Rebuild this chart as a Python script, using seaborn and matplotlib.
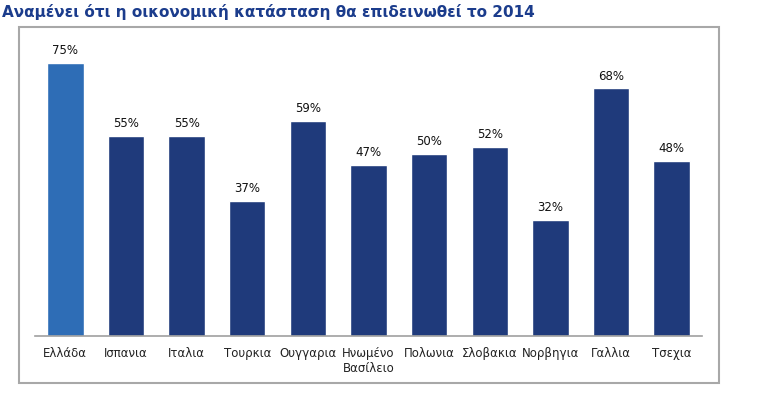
import numpy as np
import pandas as pd
import seaborn as sns
import matplotlib.pyplot as plt
from matplotlib.patches import Rectangle

countries = ['Ελλάδα', 'Ισπανια', 'Ιταλια', 'Τουρκια', 'Ουγγαρια', 'Ηνωμένο\nΒασίλειο',
             'Πολωνια', 'Σλοβακια', 'Νορβηγια', 'Γαλλια', 'Τσεχια']
values = [75, 55, 55, 37, 59, 47, 50, 52, 32, 68, 48]
colors = ['#2E6DB6'] + ['#1F3A7B'] * 10

df = pd.DataFrame({'country': countries, 'value': values})

sns.set_style('white')
plt.rcParams['font.family'] = ['DejaVu Sans']

fig = plt.figure(figsize=(7.58, 3.95), dpi=100)
ax = fig.add_axes([35 / 758, 1 - 336 / 395, 667 / 758, 296 / 395])

sns.barplot(data=df, x='country', y='value', hue='country', palette=colors,
            legend=False, width=0.6, saturation=1, ax=ax)

for i, v in enumerate(values):
    ax.text(i, v + 1.6, f'{v}%', ha='center', va='bottom', fontsize=8.5, color='#111111')

ax.set_xlim(-0.5, 10.5)
ax.set_ylim(0, 296 / 3.64)
ax.set_xlabel('')
ax.set_ylabel('')
ax.set_yticks([])
ax.tick_params(axis='x', length=0, pad=8, labelsize=8.5, colors='#222222')
for s in ['top', 'right', 'left']:
    ax.spines[s].set_visible(False)
ax.spines['bottom'].set_color('#A0A0A0')
ax.spines['bottom'].set_linewidth(1.2)

# outer frame
fig.patches.append(Rectangle((19 / 758, 1 - 383 / 395), 700 / 758, 356 / 395,
                             transform=fig.transFigure, fill=False,
                             edgecolor='#A8A8A8', linewidth=1.5))

fig.text(2 / 758, 1 - 12 / 395, 'Αναμένει ότι η οικονομική κατάσταση θα επιδεινωθεί το 2014',
         ha='left', va='center', fontsize=11, fontweight='bold', color='#1B3C8C')

plt.savefig('out.png', dpi=100)
